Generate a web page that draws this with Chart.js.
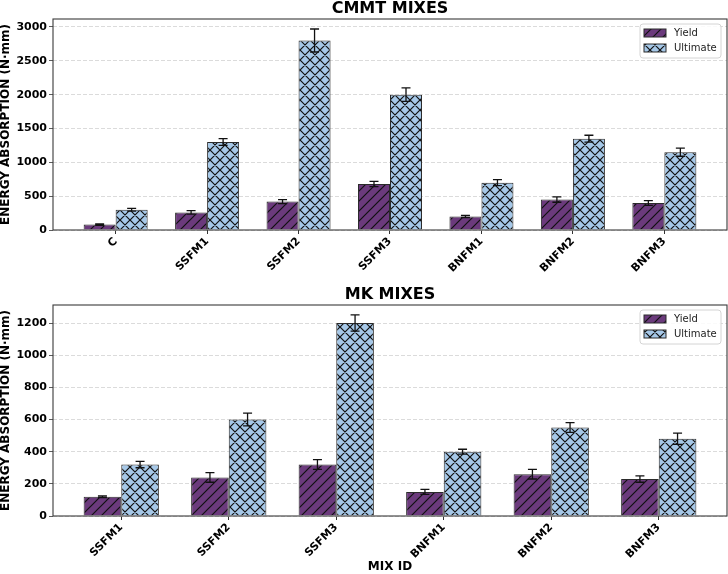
<!DOCTYPE html>
<html>
<head>
<meta charset="utf-8">
<script src="https://cdn.jsdelivr.net/npm/chart.js@4.4.0/dist/chart.umd.min.js"></script>
<style>
  html, body { margin: 0; padding: 0; background: #fff; }
  .box { position: absolute; left: 0; width: 728px; height: 287px; }
</style>
</head>
<body>
<div class="box" style="top:0"><canvas id="chart_cmmt" width="728" height="287"></canvas></div>
<div class="box" style="top:287px"><canvas id="chart_mk" width="728" height="287"></canvas></div>
<script>
// CMMT mixes
const cmmtMixes = ["C", "SSFM1", "SSFM2", "SSFM3", "BNFM1", "BNFM2", "BNFM3"];
const cmmtYield = [80, 260, 420, 680, 200, 450, 400];
const cmmtYieldErr = [10, 25, 30, 40, 15, 40, 35];
const cmmtUltimate = [300, 1300, 2800, 2000, 700, 1350, 1150];
const cmmtUltimateErr = [20, 50, 170, 100, 45, 50, 60];
const cmmtTicks = [0, 500, 1000, 1500, 2000, 2500, 3000];

// MK mixes
const mkMixes = ["SSFM1", "SSFM2", "SSFM3", "BNFM1", "BNFM2", "BNFM3"];
const mkYield = [120, 240, 320, 150, 260, 230];
const mkYieldErr = [5, 30, 30, 15, 30, 20];
const mkUltimate = [320, 600, 1200, 400, 550, 480];
const mkUltimateErr = [20, 40, 50, 15, 30, 35];
const mkTicks = [0, 200, 400, 600, 800, 1000, 1200];

const yieldColor = "#6b3a7c";
const ultimateColor = "#a6c8e8";
const edgeColor = "#2b2b2b";
const font = "'DejaVu Sans', sans-serif";

function hatch(ctx, bg, cross) {
  const s = 10;
  const c = document.createElement("canvas");
  c.width = s; c.height = s;
  const g = c.getContext("2d");
  g.fillStyle = bg;
  g.fillRect(0, 0, s, s);
  g.strokeStyle = "#111";
  g.lineWidth = 1.2;
  g.beginPath();
  g.moveTo(-1, s + 1); g.lineTo(s + 1, -1);
  g.moveTo(-1, 1); g.lineTo(1, -1);
  g.moveTo(s - 1, s + 1); g.lineTo(s + 1, s - 1);
  if (cross) {
    g.moveTo(-1, -1); g.lineTo(s + 1, s + 1);
    g.moveTo(s - 1, -1); g.lineTo(s + 1, 1);
    g.moveTo(-1, s - 1); g.lineTo(1, s + 1);
  }
  g.stroke();
  return ctx.createPattern(c, "repeat");
}

// error bars drawn on top of the bars
const errorBars = {
  id: "errorBars",
  afterDatasetsDraw(chart) {
    const ctx = chart.ctx;
    const y = chart.scales.y;
    chart.data.datasets.forEach((ds, di) => {
      chart.getDatasetMeta(di).data.forEach((bar, i) => {
        const v = ds.data[i].y, e = ds.errors[i];
        const top = y.getPixelForValue(v + e);
        const bot = y.getPixelForValue(v - e);
        ctx.save();
        ctx.strokeStyle = "#111";
        ctx.lineWidth = 1.3;
        ctx.beginPath();
        ctx.moveTo(bar.x, top); ctx.lineTo(bar.x, bot);
        ctx.moveTo(bar.x - 4.5, top); ctx.lineTo(bar.x + 4.5, top);
        ctx.moveTo(bar.x - 4.5, bot); ctx.lineTo(bar.x + 4.5, bot);
        ctx.stroke();
        ctx.restore();
      });
    });
  }
};

// axes frame, title and the legend inside the plot
const frame = {
  id: "frame",
  afterDraw(chart, args, opts) {
    const ctx = chart.ctx;
    const a = chart.chartArea;
    ctx.save();
    ctx.strokeStyle = "#3a3a3a";
    ctx.lineWidth = 1.1;
    ctx.strokeRect(a.left, a.top, a.right - a.left, a.bottom - a.top);

    ctx.fillStyle = "#000";
    ctx.font = "bold 16px " + font;
    ctx.textAlign = "center";
    ctx.textBaseline = "alphabetic";
    ctx.fillText(opts.title, (a.left + a.right) / 2, opts.titleY);

    const lx = a.right - 87, ly = a.top + 5, lw = 81, lh = 34;
    ctx.fillStyle = "rgba(255,255,255,0.85)";
    ctx.strokeStyle = "#d4d4d4";
    ctx.lineWidth = 1;
    ctx.beginPath();
    ctx.roundRect(lx, ly, lw, lh, 3);
    ctx.fill();
    ctx.stroke();
    ctx.font = "10px " + font;
    ctx.textAlign = "left";
    ctx.textBaseline = "middle";
    chart.data.datasets.forEach((ds, i) => {
      const cy = ly + 9 + i * 15;
      ctx.fillStyle = ds.backgroundColor;
      ctx.fillRect(lx + 4, cy - 4, 22, 8);
      ctx.strokeStyle = edgeColor;
      ctx.strokeRect(lx + 4, cy - 4, 22, 8);
      ctx.fillStyle = "#222";
      ctx.fillText(ds.label, lx + 34, cy);
    });
    ctx.restore();
  }
};

function makeChart(id, mixes, yld, yldErr, ult, ultErr, yTicks, yMax, opts) {
  const el = document.getElementById(id);
  const ctx = el.getContext("2d");
  const pad = 0.35 + 0.05 * (mixes.length - 1 + 0.7);
  return new Chart(el, {
    type: "bar",
    data: {
      datasets: [
        {
          label: "Yield",
          data: yld.map((v, i) => ({ x: i, y: v })),
          errors: yldErr,
          backgroundColor: hatch(ctx, yieldColor, false),
          borderColor: edgeColor,
          borderWidth: 1,
          categoryPercentage: 0.7,
          barPercentage: 1.0,
        },
        {
          label: "Ultimate",
          data: ult.map((v, i) => ({ x: i, y: v })),
          errors: ultErr,
          backgroundColor: hatch(ctx, ultimateColor, true),
          borderColor: edgeColor,
          borderWidth: 1,
          categoryPercentage: 0.7,
          barPercentage: 1.0,
        },
      ],
    },
    options: {
      responsive: false,
      animation: false,
      layout: { padding: { top: opts.top, right: 1, left: 0, bottom: 0 } },
      plugins: {
        legend: { display: false },
        tooltip: { enabled: false },
        frame: { title: opts.title, titleY: opts.titleY },
      },
      scales: {
        x: {
          type: "linear",
          offset: false,
          min: -pad,
          max: mixes.length - 1 + pad,
          afterBuildTicks: (s) => { s.ticks = mixes.map((_, i) => ({ value: i })); },
          afterFit: (s) => { s.height = opts.xHeight; },
          grid: { display: true, drawOnChartArea: false, offset: false, tickLength: 4, tickColor: "#333" },
          border: { display: false },
          ticks: {
            autoSkip: false,
            minRotation: 45,
            maxRotation: 45,
            padding: 1,
            color: "#000",
            font: { family: font, size: 11, weight: "bold" },
            callback: (v) => mixes[v],
          },
          title: {
            display: !!opts.xTitle,
            text: opts.xTitle || "",
            color: "#000",
            padding: 0,
            font: { family: font, size: 12, weight: "bold" },
          },
        },
        y: {
          min: 0,
          max: yMax,
          afterBuildTicks: (s) => { s.ticks = yTicks.map((v) => ({ value: v })); },
          afterFit: (s) => { s.width = 53; },
          grid: { color: "#d2d2d2", lineWidth: 0.8, tickLength: 4, tickColor: "#333", tickBorderDash: [] },
          border: { display: false, dash: [4, 2] },
          ticks: {
            padding: 2,
            color: "#000",
            font: { family: font, size: 11, weight: "bold" },
            callback: (v) => String(v),
          },
          title: {
            display: true,
            text: "ENERGY ABSORPTION (N·mm)",
            color: "#000",
            padding: 0,
            font: { family: font, size: 12, weight: "bold", lineHeight: 1 },
          },
        },
      },
    },
    plugins: [errorBars, frame],
  });
}

makeChart("chart_cmmt", cmmtMixes, cmmtYield, cmmtYieldErr, cmmtUltimate, cmmtUltimateErr,
  cmmtTicks, 3118, { top: 19, xHeight: 57, title: "CMMT MIXES", titleY: 12.5 });

makeChart("chart_mk", mkMixes, mkYield, mkYieldErr, mkUltimate, mkUltimateErr,
  mkTicks, 1312, { top: 18, xHeight: 58, title: "MK MIXES", titleY: 11.5, xTitle: "MIX ID" });
</script>
</body>
</html>
